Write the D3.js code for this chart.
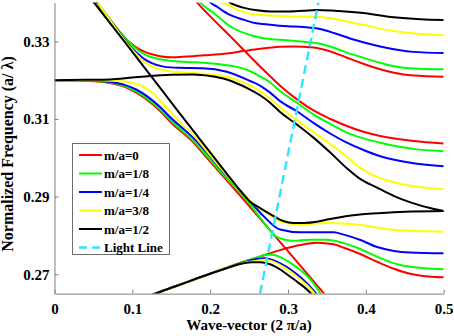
<!DOCTYPE html>
<html>
<head>
<meta charset="utf-8">
<script src="https://cdn.jsdelivr.net/npm/d3@7"></script>
<style>
  body { margin: 0; background: #fff; }
  svg text { font-family: "Liberation Serif", "DejaVu Serif", serif; font-weight: bold; fill: #000; }
</style>
</head>
<body>
<svg id="chart" width="454" height="336"></svg>
<script>
// band curves, [k, freq] pairs
const redBands = [
  [[0.044,0.3425],[0.055,0.3398],[0.07,0.3358],[0.085,0.3322],[0.097,0.3297],[0.107,0.3282],[0.1141,0.3275],[0.125,0.3267],[0.1356,0.3262],[0.15,0.3259],[0.17,0.3261],[0.1912,0.3264],[0.2217,0.3269],[0.2427,0.3275],[0.2645,0.3281],[0.2898,0.3286],[0.3075,0.3287],[0.3327,0.3284],[0.3546,0.3274],[0.3756,0.3258],[0.3931,0.3245],[0.4184,0.3228],[0.436,0.3219],[0.4612,0.3212],[0.5,0.3209]],
  [[0,0.32],[0.04,0.3198],[0.07,0.3193],[0.09,0.3183],[0.105,0.3168],[0.12,0.3148],[0.135,0.3122],[0.15,0.309],[0.1748,0.3047],[0.2,0.299],[0.2427,0.2893],[0.28,0.2806],[0.3455,0.2652],[0.36,0.2618]],
  [[0.12,0.2643],[0.1293,0.265],[0.16,0.2672],[0.187,0.2692],[0.2217,0.2717],[0.2427,0.2732],[0.2645,0.2746],[0.2898,0.2762],[0.3155,0.2775],[0.337,0.2781],[0.3584,0.2777],[0.3717,0.2768],[0.3927,0.2752],[0.4145,0.2732],[0.436,0.2714],[0.4569,0.2701],[0.48,0.2694],[0.5,0.2692]],
  [[0.178,0.3412],[0.1828,0.3401],[0.2298,0.3305],[0.2684,0.3227],[0.2898,0.3186],[0.312,0.315],[0.3327,0.3122],[0.3546,0.31],[0.3756,0.3082],[0.397,0.3067],[0.4184,0.3056],[0.4612,0.3043],[0.5,0.3037]]
];

const greenBands = [
  [[0.045,0.3425],[0.056,0.3397],[0.07,0.336],[0.085,0.3322],[0.097,0.3295],[0.107,0.3278],[0.115,0.3268],[0.125,0.3259],[0.1356,0.3254],[0.1485,0.325],[0.17,0.3247],[0.1912,0.3245],[0.2127,0.3241],[0.2298,0.3236],[0.247,0.3227],[0.262,0.3212],[0.277,0.3194],[0.2898,0.3172],[0.3113,0.3142],[0.3327,0.3112],[0.3546,0.3087],[0.3756,0.3065],[0.397,0.305],[0.4184,0.3039],[0.4612,0.3023],[0.5,0.3017]],
  [[0,0.32],[0.04,0.3199],[0.07,0.3194],[0.09,0.3185],[0.105,0.3171],[0.12,0.3151],[0.135,0.3126],[0.15,0.3095],[0.1767,0.3047],[0.2,0.2995],[0.22,0.2949],[0.247,0.2891],[0.2684,0.2835],[0.2856,0.2796],[0.3069,0.2786],[0.3275,0.2789],[0.3503,0.2789],[0.3717,0.278],[0.3927,0.2765],[0.4145,0.2745],[0.436,0.2728],[0.4569,0.2719],[0.48,0.2715],[0.5,0.2713]],
  [[0.12,0.2643],[0.1293,0.265],[0.16,0.2672],[0.187,0.2692],[0.2217,0.2717],[0.2427,0.2732],[0.2641,0.2746],[0.2727,0.275],[0.28,0.275],[0.29,0.2744],[0.3027,0.273],[0.315,0.2712],[0.3288,0.2686],[0.3413,0.2652],[0.352,0.262]],
  [[0.183,0.3412],[0.187,0.3401],[0.2041,0.3374],[0.2256,0.3339],[0.2555,0.3314],[0.277,0.3306],[0.2985,0.3303],[0.3198,0.3299],[0.3413,0.3294],[0.36,0.3283],[0.3756,0.3271],[0.3931,0.326],[0.4184,0.3245],[0.436,0.3236],[0.4612,0.323],[0.5,0.3228]]
];

const blueBands = [
  [[0.046,0.3425],[0.057,0.3395],[0.07,0.3359],[0.085,0.3318],[0.097,0.3288],[0.107,0.3268],[0.115,0.3255],[0.125,0.3244],[0.14,0.3235],[0.16,0.3232],[0.19,0.3231],[0.2213,0.3222],[0.2513,0.3198],[0.265,0.3185],[0.277,0.3168],[0.2898,0.3146],[0.3113,0.312],[0.3327,0.309],[0.3546,0.3062],[0.3756,0.3039],[0.397,0.302],[0.4184,0.3004],[0.4612,0.2986],[0.5,0.2978]],
  [[0,0.32],[0.04,0.32],[0.07,0.3196],[0.09,0.3188],[0.105,0.3176],[0.12,0.3157],[0.135,0.3132],[0.15,0.3102],[0.1806,0.3047],[0.2,0.3003],[0.22,0.2956],[0.2491,0.2893],[0.2684,0.285],[0.2898,0.2815],[0.3155,0.2808],[0.3584,0.2808],[0.3717,0.2802],[0.3931,0.2788],[0.4145,0.277],[0.436,0.276],[0.4569,0.2756],[0.5,0.2754]],
  [[0.12,0.2643],[0.1293,0.265],[0.16,0.2672],[0.187,0.2692],[0.2217,0.2716],[0.2427,0.273],[0.26,0.2739],[0.27,0.2741],[0.28,0.2737],[0.29,0.2728],[0.3005,0.2716],[0.313,0.2697],[0.325,0.2675],[0.337,0.2648],[0.348,0.2618]],
  [[0.196,0.3412],[0.1999,0.3401],[0.2085,0.339],[0.217,0.3378],[0.2217,0.3372],[0.2427,0.3356],[0.256,0.3348],[0.277,0.3343],[0.3,0.3339],[0.3198,0.3337],[0.3413,0.3332],[0.36,0.3321],[0.3841,0.3305],[0.4184,0.3287],[0.4612,0.3273],[0.5,0.327]]
];

const yellowBands = [
  [[0.047,0.3425],[0.058,0.3393],[0.07,0.3358],[0.085,0.3316],[0.097,0.3285],[0.107,0.3263],[0.115,0.3248],[0.125,0.3236],[0.14,0.3226],[0.157,0.3221],[0.18,0.3218],[0.2,0.3215],[0.2217,0.3209],[0.2427,0.3194],[0.26,0.3177],[0.277,0.3153],[0.2898,0.313],[0.3113,0.3097],[0.3327,0.3066],[0.3546,0.3035],[0.3756,0.3003],[0.3875,0.2982],[0.4,0.2965],[0.4145,0.2951],[0.4356,0.2937],[0.4569,0.2928],[0.5,0.2919]],
  [[0,0.32],[0.05,0.32],[0.08,0.3198],[0.1,0.3193],[0.112,0.3185],[0.125,0.3169],[0.14,0.3138],[0.16,0.3094],[0.1836,0.3047],[0.2,0.3006],[0.22,0.2958],[0.2535,0.2885],[0.2748,0.2855],[0.2941,0.2833],[0.3155,0.2828],[0.3503,0.2832],[0.3927,0.2827],[0.436,0.2814],[0.5,0.281]],
  [[0.12,0.2643],[0.1293,0.265],[0.16,0.2672],[0.187,0.2692],[0.2217,0.2716],[0.2427,0.2729],[0.26,0.2735],[0.2706,0.2737],[0.28,0.2733],[0.2992,0.2712],[0.312,0.2693],[0.324,0.2672],[0.3348,0.2648],[0.345,0.262]],
  [[0.213,0.3412],[0.217,0.34],[0.2217,0.3396],[0.2342,0.3382],[0.2555,0.337],[0.2985,0.3365],[0.3198,0.3364],[0.3413,0.3363],[0.3503,0.3361],[0.3931,0.3344],[0.436,0.3327],[0.47,0.3319],[0.5,0.3316]]
];

const blackBands = [
  [[0.04,0.3428],[0.0508,0.34],[0.0884,0.3303],[0.125,0.3208],[0.1561,0.3127],[0.1871,0.3047],[0.2217,0.2958],[0.24,0.2912],[0.2513,0.2887],[0.2645,0.287],[0.2727,0.286],[0.2856,0.2845],[0.2941,0.2837],[0.3069,0.2832],[0.32,0.2832],[0.337,0.2835],[0.3503,0.2841],[0.367,0.2847],[0.3927,0.2854],[0.4145,0.2857],[0.45,0.2861],[0.5,0.2863]],
  [[0,0.32],[0.04,0.3201],[0.0713,0.3202],[0.1,0.3207],[0.1227,0.3211],[0.15,0.3214],[0.1784,0.3215],[0.2,0.3211],[0.2213,0.3202],[0.24,0.3187],[0.2513,0.3176],[0.265,0.316],[0.277,0.3142],[0.2898,0.3118],[0.3113,0.3086],[0.3327,0.3052],[0.3546,0.3013],[0.3756,0.2973],[0.3931,0.2945],[0.4145,0.2923],[0.4356,0.2902],[0.4573,0.2885],[0.4874,0.2868],[0.5,0.2863]],
  [[0.12,0.2643],[0.1293,0.265],[0.16,0.2672],[0.187,0.2692],[0.2217,0.2716],[0.2427,0.2728],[0.2537,0.2731],[0.2641,0.2731],[0.2727,0.2728],[0.285,0.2718],[0.2985,0.27],[0.31,0.2683],[0.32,0.2668],[0.3306,0.2648],[0.34,0.2625]],
  [[0.218,0.3412],[0.2256,0.34],[0.2427,0.3387],[0.26,0.338],[0.277,0.3377],[0.2985,0.3377],[0.3198,0.3379],[0.337,0.3381],[0.36,0.3379],[0.3931,0.3374],[0.436,0.3362],[0.47,0.3357],[0.5,0.3355]]
];

const lightLine = [[0.264,0.265],[0.339,0.34]];

const seriesNames = ["m/a=0", "m/a=1/8", "m/a=1/4", "m/a=3/8", "m/a=1/2"];
const seriesColors = ["#ff0000", "#00ff00", "#0000ff", "#ffff00", "#000000"];
const xTicks = [0, 0.1, 0.2, 0.3, 0.4, 0.5];
const xTickLabels = ["0", "0.1", "0.2", "0.3", "0.4", "0.5"];
const yTicks = [0.27, 0.29, 0.31, 0.33];
const yTickLabels = ["0.27", "0.29", "0.31", "0.33"];

const allBands = [redBands, greenBands, blueBands, yellowBands, blackBands];
const serif = "'Liberation Serif', 'DejaVu Serif', serif";

const svg = d3.select("#chart");

const x = d3.scaleLinear().domain([0, 0.5]).range([54.5, 443.7]);
const y = d3.scaleLinear().domain([0.265, 0.34]).range([293.6, 2.6]);

svg.append("defs").append("clipPath").attr("id", "plotClip")
  .append("rect")
  .attr("x", x(0)).attr("y", y(0.34))
  .attr("width", x(0.5) - x(0)).attr("height", y(0.265) - y(0.34));

const line = d3.line()
  .x(d => x(d[0]))
  .y(d => y(d[1]))
  .curve(d3.curveMonotoneX);

const plot = svg.append("g").attr("clip-path", "url(#plotClip)");

allBands.forEach((bands, i) => {
  plot.selectAll(".band" + i)
    .data(bands)
    .enter().append("path")
    .attr("class", "band" + i)
    .attr("d", line)
    .attr("fill", "none")
    .attr("stroke", seriesColors[i])
    .attr("stroke-width", 2);
});

plot.append("path")
  .attr("d", d3.line().x(d => x(d[0])).y(d => y(d[1]))(lightLine))
  .attr("fill", "none")
  .attr("stroke", "#33e4ff")
  .attr("stroke-width", 2.4)
  .attr("stroke-dasharray", "9,5");

// axes
const axisColor = "#808080";

const xAxis = svg.append("g")
  .attr("transform", "translate(0," + y(0.265) + ")")
  .call(d3.axisBottom(x).tickValues(xTicks)
    .tickFormat((d, i) => xTickLabels[i])
    .tickSizeInner(-4).tickSizeOuter(0).tickPadding(10));

const yAxis = svg.append("g")
  .attr("transform", "translate(" + x(0) + ",0)")
  .call(d3.axisLeft(y).tickValues(yTicks)
    .tickFormat((d, i) => yTickLabels[i])
    .tickSizeInner(-4).tickSizeOuter(0).tickPadding(5));

[xAxis, yAxis].forEach(g => {
  g.attr("font-family", serif).attr("font-size", 15);
  g.select(".domain").attr("stroke", axisColor).attr("stroke-width", 1);
  g.selectAll(".tick line").attr("stroke", axisColor);
  g.selectAll(".tick text")
    .attr("fill", "#000")
    .attr("font-family", serif)
    .attr("font-weight", "bold");
});

svg.append("text")
  .attr("x", 249).attr("y", 330)
  .attr("text-anchor", "middle")
  .attr("font-family", serif)
  .attr("font-size", 15)
  .text("Wave-vector (2 π/a)");

svg.append("text")
  .attr("transform", "translate(13,154) rotate(-90)")
  .attr("text-anchor", "middle")
  .attr("font-family", serif)
  .attr("font-size", 16)
  .text("Normalized Frequency (a/ λ)");

// legend
const legend = svg.append("g");
legend.append("rect")
  .attr("x", 72.5).attr("y", 143.5)
  .attr("width", 97).attr("height", 111)
  .attr("fill", "#fff")
  .attr("stroke", "#6e6e6e")
  .attr("stroke-width", 1);

const legendNames = seriesNames.concat(["Light Line"]);
const legendColors = seriesColors.concat(["#33e4ff"]);

legendNames.forEach((name, i) => {
  const cy = 155 + i * 18.5;
  legend.append("line")
    .attr("x1", 79).attr("x2", 102)
    .attr("y1", cy).attr("y2", cy)
    .attr("stroke", legendColors[i])
    .attr("stroke-width", i === 5 ? 2.4 : 2)
    .attr("stroke-dasharray", i === 5 ? "8,5" : null);
  legend.append("text")
    .attr("x", 104).attr("y", cy + 4.5)
    .attr("font-family", serif)
    .attr("font-size", 13)
    .text(name);
});
</script>
</body>
</html>
